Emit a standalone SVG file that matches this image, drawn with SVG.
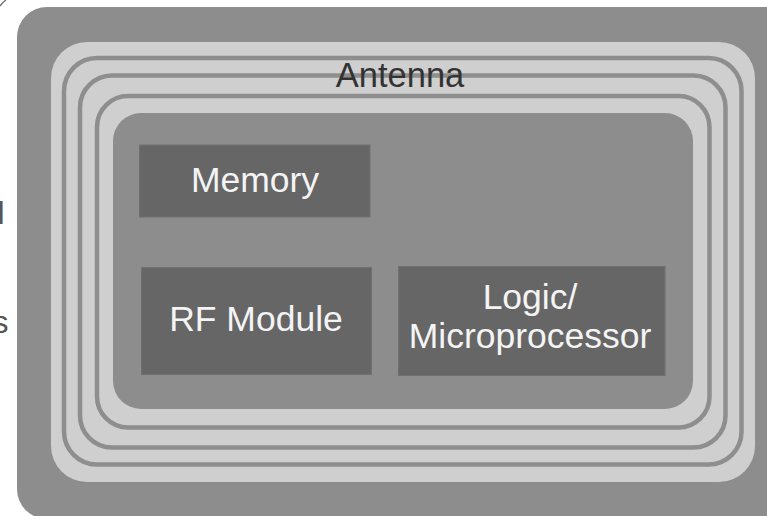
<svg xmlns="http://www.w3.org/2000/svg" width="767" height="516" viewBox="0 0 767 516">
  <style>
    .card { fill: #8d8d8d; }
    .coil { fill: #cfcfcf; }
    .turn { fill: none; stroke: #8e8e8e; stroke-width: 4.5; }
    .die { fill: #8d8d8d; }
    .block { fill: #666666; stroke: #707070; stroke-width: 1; }
    .label { font-family: "Liberation Sans", Arial, sans-serif; font-size: 35.5px; fill: #f4f4f4; text-anchor: middle; }
    .antenna-label { font-family: "Liberation Sans", Arial, sans-serif; font-size: 34.5px; fill: #333333; text-anchor: middle; }
    .side { font-family: "Liberation Sans", Arial, sans-serif; font-size: 32px; fill: #555555; }
  </style>

  <rect width="767" height="516" fill="#ffffff"/>

  <!-- stray marks at the left margin -->
  <path d="M0,6 Q2.5,2.5 6,0" fill="none" stroke="#777777" stroke-width="1.5"/>
  <text class="side" x="-2.5" y="224">l</text>
  <text class="side" x="-7.5" y="333">s</text>

  <!-- card body -->
  <rect class="card" x="17" y="7" width="780" height="512" rx="30" ry="30"/>

  <!-- antenna coil -->
  <g id="antenna">
    <rect class="coil" x="51" y="42" width="704" height="440" rx="36" ry="36"/>
    <rect class="turn" x="64" y="58" width="677.5" height="406.5" rx="33" ry="33"/>
    <rect class="turn" x="80" y="75.5" width="645.5" height="372" rx="32" ry="32"/>
    <rect class="turn" x="97" y="96" width="612.5" height="331.5" rx="31" ry="31"/>
    <text class="antenna-label" x="400" y="86.5">Antenna</text>
  </g>

  <!-- chip area -->
  <rect class="die" x="113" y="113" width="580" height="296" rx="28" ry="28"/>

  <g id="memory">
    <rect class="block" x="139.5" y="145" width="230.5" height="72"/>
    <text class="label" x="255" y="192">Memory</text>
  </g>

  <g id="rf-module">
    <rect class="block" x="141.5" y="267.5" width="230" height="107"/>
    <text class="label" x="256" y="331">RF Module</text>
  </g>

  <g id="logic">
    <rect class="block" x="398.5" y="266.5" width="266.5" height="109"/>
    <text class="label" x="530" y="309">Logic/</text>
    <text class="label" x="530" y="347.5">Microprocessor</text>
  </g>

  <g id="connectors"/>
</svg>
